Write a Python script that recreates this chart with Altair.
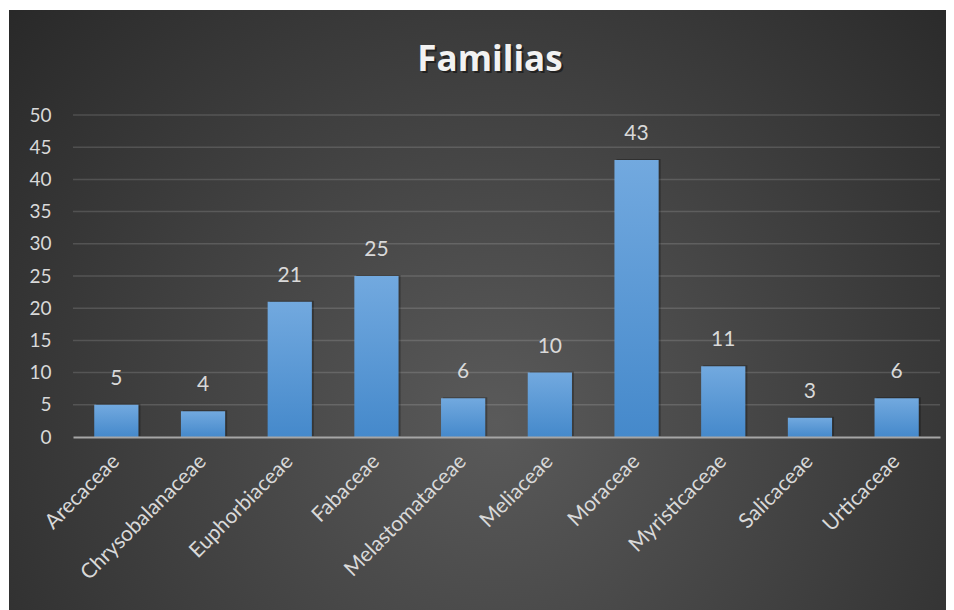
import altair as alt
import pandas as pd

familias = ["Arecaceae", "Chrysobalanaceae", "Euphorbiaceae", "Fabaceae", "Melastomataceae",
            "Meliaceae", "Moraceae", "Myristicaceae", "Salicaceae", "Urticaceae"]
valores = [5, 4, 21, 25, 6, 10, 43, 11, 3, 6]
y_ticks = [0, 5, 10, 15, 20, 25, 30, 35, 40, 45, 50]
titulo = "Familias"

df = pd.DataFrame({"familia": familias, "valor": valores})
grid_df = pd.DataFrame({"valor": y_ticks[1:]})

W, H = 867, 322
PL, PT, PR, PB = 65, 107, 6, 173

bg = alt.Chart(pd.DataFrame({"k": [0]})).mark_rect(
    clip=False,
    fill=alt.RadialGradient(
        gradient="radial",
        x1=0.52, y1=0.62, r1=0.0, x2=0.52, y2=0.62, r2=0.72,
        stops=[alt.GradientStop(offset=0, color="#5a5a5a"),
               alt.GradientStop(offset=1, color="#262626")],
    ),
).encode(
    x=alt.value(-PL + 1), x2=alt.value(W + PR),
    y=alt.value(-PT + 2), y2=alt.value(H + PB),
)

xenc = alt.X("familia:N", sort=familias, title=None,
             scale=alt.Scale(paddingInner=0.49, paddingOuter=0.245),
             axis=alt.Axis(labelAngle=-45, labelAlign="right", labelBaseline="middle",
                           labelFont="Lato", labelFontSize=21, labelColor="#d9d9d9",
                           labelPadding=21, ticks=False, domainColor="#a6a6a6",
                           domainWidth=2, grid=False, labelLimit=300, zindex=2))
yscale = alt.Scale(domain=[0, 50], nice=False)
yaxis = alt.Axis(values=y_ticks, labelFont="Lato", labelFontSize=19,
                 labelColor="#d9d9d9", labelPadding=22, ticks=False,
                 domain=False, grid=False, zindex=2)
yenc = alt.Y("valor:Q", title=None, scale=yscale, axis=yaxis)

grid = alt.Chart(grid_df).mark_rule(color="#ffffff", opacity=0.14, strokeWidth=1.5).encode(
    y=yenc)

shadow = alt.Chart(df).mark_bar(color="#000000", opacity=0.28, xOffset=2, x2Offset=2, yOffset=-1).encode(
    x=xenc, y=yenc)

bars = alt.Chart(df).mark_bar(
    color=alt.LinearGradient(
        gradient="linear", x1=0, y1=0, x2=0, y2=1,
        stops=[alt.GradientStop(offset=0, color="#72a9df"),
               alt.GradientStop(offset=1, color="#4589cb")],
    )
).encode(x=xenc, y=yenc)

labels = alt.Chart(df).mark_text(
    font="Lato", fontSize=21, color="#d9d9d9", dy=-26, baseline="middle"
).encode(x=xenc, y=yenc, text="valor:Q")

title_shadow = alt.Chart(pd.DataFrame({"t": [titulo]})).mark_text(
    font="Open Sans", fontSize=35, fontWeight="bold", color="#000000", opacity=0.45,
    baseline="middle", align="center", clip=False
).encode(x=alt.value(419), y=alt.value(-53.5), text="t:N")

title = alt.Chart(pd.DataFrame({"t": [titulo]})).mark_text(
    font="Open Sans", fontSize=35, fontWeight="bold", color="#f2f2f2",
    baseline="middle", align="center", clip=False
).encode(x=alt.value(417), y=alt.value(-55), text="t:N")

chart = alt.layer(bg, grid, shadow, bars, labels, title_shadow, title).properties(
    width=W, height=H,
    padding={"left": PL, "top": PT, "right": PR, "bottom": PB},
    autosize=alt.AutoSizeParams(type="none"),
    background="#ffffff",
).configure_view(stroke=None)

chart.save("out.html", embed_options={"renderer": "svg", "actions": False})
